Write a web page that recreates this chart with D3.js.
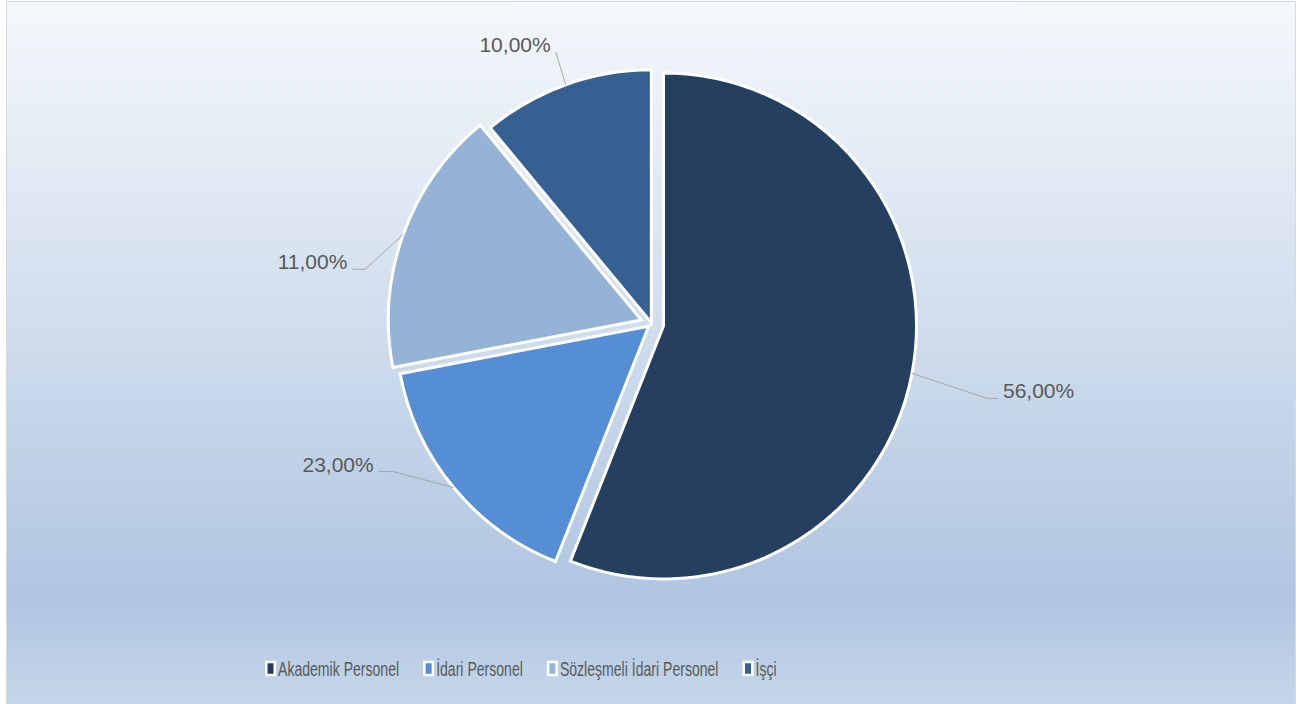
<!DOCTYPE html>
<html lang="tr">
<head>
    <meta charset="UTF-8">
    <title>Personel Dağılımı</title>
    <script src="https://d3js.org/d3.v7.min.js"></script>
    <style>
        body {
            margin: 0;
            background-color: #fff;
            font-family: "Liberation Sans", Arial, sans-serif;
        }
        #chart {
            width: 1309px;
            height: 704px;
        }
    </style>
</head>
<body>
    <div id="chart"></div>

    <script>
        const categories = ["Akademik Personel", "İdari Personel", "Sözleşmeli İdari Personel", "İşçi"];
        // slice sizes as they are drawn (the printed labels don't match the angles)
        const sliceValues = [56, 16, 17, 11];
        const labelTexts = ["56,00%", "23,00%", "11,00%", "10,00%"];
        const colors = ["#243f60", "#558ed5", "#95b3d7", "#376092"];

        const width = 1309, height = 704;
        const cx = 651.7, cy = 323.7, radius = 253;
        // each slice was pulled out by a different amount
        const explode = [12, 4, 11, 1];

        // label elbows were dragged by hand in the original -> offset from slice edge
        const labelNudge = [[75, 25], [-61, -16], [-38, 35], [-10, -33]];
        const labelTail = [11, 14, 13, 0];

        const svg = d3.select("#chart").append("svg")
            .attr("width", width)
            .attr("height", height);

        // background gradient
        const grad = svg.append("defs").append("linearGradient")
            .attr("id", "bg")
            .attr("gradientUnits", "userSpaceOnUse")
            .attr("x1", 0).attr("y1", 1)
            .attr("x2", 0).attr("y2", 706);
        grad.append("stop").attr("offset", 0).attr("stop-color", "#f5f8fc");
        grad.append("stop").attr("offset", 0.5).attr("stop-color", "#cddbec");
        grad.append("stop").attr("offset", 0.85).attr("stop-color", "#afc5e1");
        grad.append("stop").attr("offset", 1).attr("stop-color", "#c7d7ea");

        svg.append("rect")
            .attr("x", 6.5).attr("y", 1.5)
            .attr("width", 1289).attr("height", 712)
            .attr("fill", "url(#bg)")
            .attr("stroke", "#d9d9d9");

        const pie = d3.pie().sort(null).value(d => d)(sliceValues);
        const arc = d3.arc().innerRadius(0).outerRadius(radius);
        const dir = a => [Math.sin(a), -Math.cos(a)];
        const mid = d => (d.startAngle + d.endAngle) / 2;
        const shift = (d, i) => dir(mid(d)).map(v => v * explode[i]);

        const g = svg.append("g").attr("transform", `translate(${cx},${cy})`);

        g.selectAll("path.slice")
            .data(pie)
            .join("path")
            .attr("class", "slice")
            .attr("transform", (d, i) => `translate(${shift(d, i).join(",")})`)
            .attr("d", arc)
            .attr("fill", (d, i) => colors[i])
            .attr("stroke", "#fff")
            .attr("stroke-width", 3)
            .attr("stroke-linejoin", "miter");

        // data labels with leader lines
        pie.forEach((d, i) => {
            const [ux, uy] = dir(mid(d));
            const [ox, oy] = shift(d, i);
            const p = [ox + ux * radius, oy + uy * radius];
            const e = [p[0] + labelNudge[i][0], p[1] + labelNudge[i][1]];
            const side = mid(d) < Math.PI ? 1 : -1;
            const t = [e[0] + side * labelTail[i], e[1]];

            g.append("polyline")
                .attr("points", [p, e, t].map(q => q.join(",")).join(" "))
                .attr("fill", "none")
                .attr("stroke", "#a6a6a6")
                .attr("stroke-width", 1);

            g.append("text")
                .attr("x", t[0] + side * 5)
                .attr("y", t[1])
                .attr("text-anchor", side > 0 ? "start" : "end")
                .style("font-size", "21px")
                .style("fill", "#595959")
                .text(labelTexts[i]);
        });

        // legend
        const legend = svg.append("g");
        let lx = 265;
        categories.forEach((name, i) => {
            legend.append("rect")
                .attr("x", lx + 1.25).attr("y", 662)
                .attr("width", 8.5).attr("height", 13)
                .attr("fill", colors[i])
                .attr("stroke", "#fff")
                .attr("stroke-width", 2.5);

            const tx = lx + 13;
            const txt = legend.append("text")
                .attr("transform", `translate(${tx},676) scale(0.67,1)`)
                .style("font-size", "21px")
                .style("fill", "#595959")
                .text(name);
            const w = txt.node().getComputedTextLength() * 0.67;
            lx = tx + w + 24;
        });
    </script>
</body>
</html>
